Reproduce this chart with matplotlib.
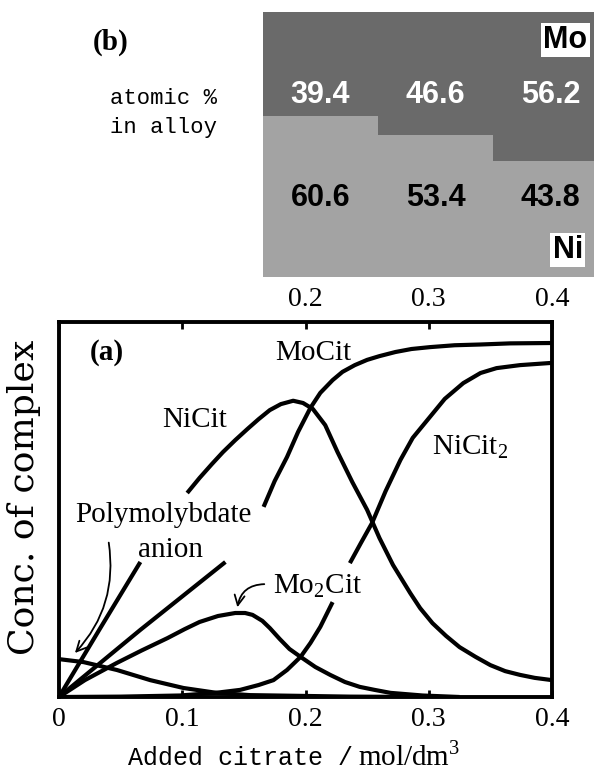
import matplotlib
matplotlib.use("Agg")
import matplotlib.pyplot as plt
import numpy as np

nan = np.nan

# (b) alloy composition, atomic %
mo_pct = [39.4, 46.6, 56.2]
ni_pct = [60.6, 53.4, 43.8]

# (a) complex concentration vs added citrate
# (nan = gap left in the line under a label)
xtick_vals = [0, 0.1, 0.2, 0.3, 0.4]
xtick_labels = ["0", "0.1", "0.2", "0.3", "0.4"]

nicit_x = [0, 0.033, 0.066, nan, 0.104, 0.114, 0.124, 0.133, 0.143, 0.153, 0.162, 0.171,
           0.180, 0.190, 0.198, 0.206, 0.216, 0.226, 0.238, 0.250, 0.260, 0.271, 0.285,
           0.293, 0.303, 0.314, 0.325, 0.338, 0.350, 0.362, 0.374, 0.386, 0.400]
nicit_y = [0, 0.181, 0.360, nan, 0.544, 0.584, 0.621, 0.653, 0.685, 0.715, 0.741, 0.765,
           0.781, 0.790, 0.784, 0.768, 0.725, 0.653, 0.573, 0.499, 0.424, 0.352, 0.277,
           0.237, 0.197, 0.163, 0.133, 0.107, 0.085, 0.069, 0.059, 0.051, 0.045]

mocit_x = [0, 0.066, 0.135, nan, 0.166, 0.175, 0.185, 0.194, 0.204, 0.212, 0.222, 0.230,
           0.240, 0.250, 0.260, 0.273, 0.286, 0.301, 0.321, 0.342, 0.366, 0.400]
mocit_y = [0, 0.179, 0.360, nan, 0.507, 0.576, 0.640, 0.707, 0.771, 0.811, 0.845, 0.867,
           0.885, 0.899, 0.909, 0.920, 0.928, 0.933, 0.938, 0.940, 0.943, 0.944]

mo2cit_x = [0, 0.021, 0.047, 0.067, 0.088, 0.102, 0.114, 0.129, 0.143, 0.151, 0.157, 0.165,
            0.171, 0.179, 0.187, 0.196, 0.208, 0.220, 0.232, 0.244, 0.256, 0.269, 0.295,
            0.325]
mo2cit_y = [0, 0.045, 0.091, 0.124, 0.157, 0.181, 0.200, 0.216, 0.224, 0.224, 0.219, 0.203,
            0.184, 0.155, 0.128, 0.107, 0.080, 0.059, 0.040, 0.027, 0.019, 0.011, 0.004,
            0.0]

poly_x = [0, 0.020, 0.047, 0.074, 0.101, 0.128, 0.155, 0.196, 0.236, 0.300]
poly_y = [0.101, 0.093, 0.072, 0.045, 0.024, 0.011, 0.005, 0.003, 0.001, 0.0]

nicit2_x = [0, 0.050, 0.098, 0.127, 0.147, 0.162, 0.174, 0.185, 0.196, 0.204, 0.212, 0.222,
            nan, 0.236, 0.245, 0.254, 0.265, 0.277, 0.287, 0.299, 0.313, 0.328, 0.342,
            0.355, 0.374, 0.400]
nicit2_y = [0, 0.001, 0.004, 0.011, 0.019, 0.032, 0.045, 0.072, 0.107, 0.144, 0.187, 0.253,
            nan, 0.357, 0.411, 0.464, 0.549, 0.632, 0.691, 0.739, 0.795, 0.837, 0.864,
            0.877, 0.885, 0.891]

plt.rcParams['font.family'] = ['Liberation Serif', 'DejaVu Serif']
W, H = 594, 770

fig = plt.figure(figsize=(W / 100, H / 100), dpi=100)

# ---- (a) lower panel
ax = fig.add_axes([59 / W, 73 / H, 493 / W, 375 / H])
lw = 3.0
for xs, ys in [(nicit_x, nicit_y), (mocit_x, mocit_y), (mo2cit_x, mo2cit_y),
               (poly_x, poly_y), (nicit2_x, nicit2_y)]:
    ax.plot(xs, ys, color='black', lw=lw, solid_joinstyle='round', solid_capstyle='butt')

ax.set_xlim(0, 0.4)
ax.set_ylim(0, 1)
ax.set_yticks([])
ax.set_xticks(xtick_vals)
ax.set_xticklabels(xtick_labels)
ax.tick_params(axis='x', direction='in', length=5, width=2, top=True, labeltop=True,
               pad=7, labelsize=20)
for t in ax.xaxis.get_major_ticks()[:2]:
    t.label2.set_visible(False)
for s in ax.spines.values():
    s.set_linewidth(2.8)

fs = 21
ax.text(0.025, 0.899, "(a)", fontsize=fs, fontweight='bold')
ax.text(0.175, 0.899, "MoCit", fontsize=fs)
ax.text(0.084, 0.72, "NiCit", fontsize=fs)
ax.text(0.303, 0.648, r"NiCit$_\mathregular{2}$", fontsize=fs)
ax.text(0.013, 0.467, "Polymolybdate", fontsize=fs)
ax.text(0.064, 0.373, "anion", fontsize=fs)
ax.text(0.174, 0.277, r"Mo$_\mathregular{2}$Cit", fontsize=fs)

ax.annotate("", xy=(0.0114, 0.112), xytext=(0.040, 0.419),
            arrowprops=dict(arrowstyle='->', lw=1.3, color='black',
                            connectionstyle='arc3,rad=-0.25', mutation_scale=18))
ax.annotate("", xy=(0.1444, 0.232), xytext=(0.1688, 0.301),
            arrowprops=dict(arrowstyle='->', lw=1.3, color='black',
                            connectionstyle='arc3,rad=0.45', mutation_scale=18))

fig.text(24 / W, 1 - 497 / H, "Conc. of complex", rotation=90, ha='center', va='center',
         fontsize=26, family='DejaVu Serif')
fig.text(128 / W, 1 - 765 / H, "Added citrate /", fontsize=18, family='Liberation Mono',
         ha='left', va='baseline')
fig.text(358 / W, 1 - 765 / H, r"mol/dm$^\mathregular{3}$", fontsize=21,
         ha='left', va='baseline')

# ---- (b) upper panel
axb = fig.add_axes([263 / W, 1 - 277 / H, 331 / W, 265 / H])
pos = np.arange(len(mo_pct))
axb.bar(pos, ni_pct, width=1.0, color='#a3a3a3', edgecolor='none')
axb.bar(pos, mo_pct, bottom=ni_pct, width=1.0, color='#6a6a6a', edgecolor='none')
axb.set_xlim(-0.5, -0.5 + 331 / 115)
axb.set_ylim(0, 100)
axb.axis('off')

vfont = dict(fontsize=22, fontweight='bold', family='Liberation Sans', ha='center', va='center')
for i in pos:
    axb.text(i, 68.7, f"{mo_pct[i]:.1f}", color='white', **vfont)
    axb.text(i, 30.0, f"{ni_pct[i]:.1f}", color='black', **vfont)
axb.text(2.13, 89.4, "Mo", color='black',
         bbox=dict(facecolor='white', edgecolor='none', pad=1.5), **vfont)
axb.text(2.15, 10.2, "Ni", color='black',
         bbox=dict(facecolor='white', edgecolor='none', pad=1.5), **vfont)

fig.text(93 / W, 1 - 50 / H, "(b)", fontsize=21, fontweight='bold', ha='left', va='baseline')
fig.text(163 / W, 1 - 104 / H, "atomic %", fontsize=16, family='Liberation Mono',
         ha='center', va='baseline')
fig.text(163 / W, 1 - 133 / H, "in alloy", fontsize=16, family='Liberation Mono',
         ha='center', va='baseline')

fig.savefig("out.png", dpi=100)
